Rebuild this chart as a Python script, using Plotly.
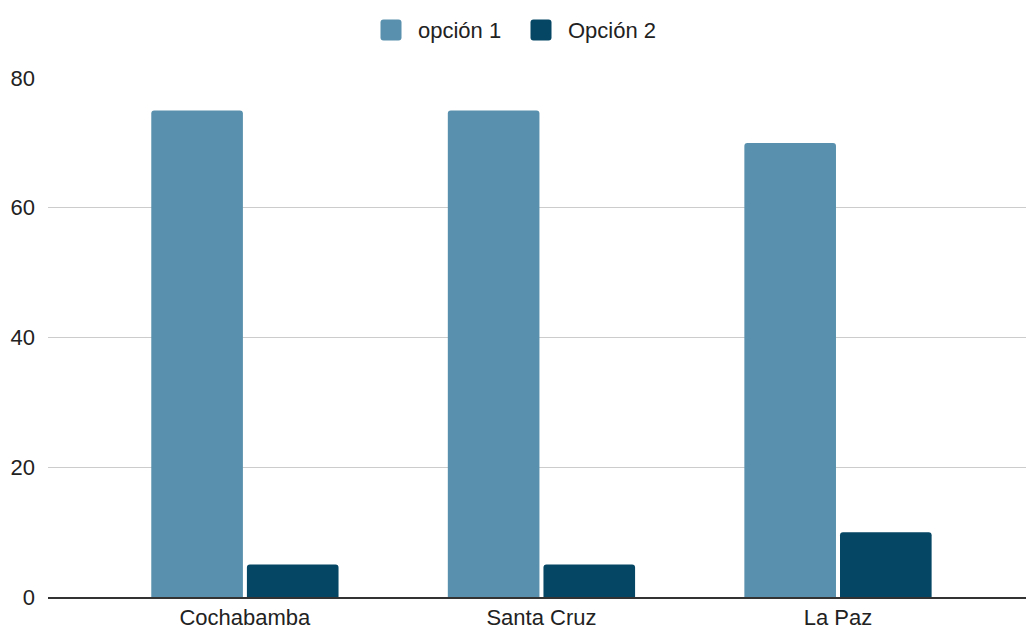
import plotly.graph_objects as go

# Survey results per city
ciudades = ["Cochabamba", "Santa Cruz", "La Paz"]
opcion_1 = [75, 75, 70]
opcion_2 = [5, 5, 10]
y_ticks = [0, 20, 40, 60, 80]
series = [("opción 1", opcion_1, "#5890ad"), ("Opción 2", opcion_2, "#044664")]

FONT = "Liberation Sans, Arial, sans-serif"
TEXT = "#222222"
W, H = 1026, 630
M_L, M_R, M_T, M_B = 48, 0, 78, 33
PLOT_W = W - M_L - M_R
PLOT_H = H - M_T - M_B

fig = go.Figure()
for nombre, valores, color in series:
    fig.add_trace(go.Bar(x=ciudades, y=valores, name=nombre,
                         marker=dict(color=color, line=dict(width=0))))


def px_to_paper_x(px):
    return (px - M_L) / PLOT_W


def px_to_paper_y(py):
    return (H - M_B - py) / PLOT_H


def rounded_square(size, r):
    h = size / 2
    return (f"M{-h + r},{-h} L{h - r},{-h} Q{h},{-h} {h},{-h + r} "
            f"L{h},{h - r} Q{h},{h} {h - r},{h} L{-h + r},{h} "
            f"Q{-h},{h} {-h},{h - r} L{-h},{-h + r} Q{-h},{-h} {-h + r},{-h} Z")


# Custom legend at the top: rounded swatches followed by labels
legend_y = 30
legend_items = [(391, 416), (541, 566)]  # swatch centre, label left edge (px)
for (swatch_x, label_x), (nombre, _, color) in zip(legend_items, series):
    fig.add_shape(type="path", xref="paper", yref="paper",
                  xsizemode="pixel", ysizemode="pixel",
                  xanchor=px_to_paper_x(swatch_x), yanchor=px_to_paper_y(legend_y),
                  path=rounded_square(21, 3), fillcolor=color,
                  line=dict(width=0), layer="above")
    fig.add_annotation(text=nombre, xref="paper", yref="paper",
                       x=px_to_paper_x(label_x), y=px_to_paper_y(legend_y),
                       xanchor="left", yanchor="middle", showarrow=False,
                       font=dict(size=22, color=TEXT, family=FONT))

fig.update_layout(
    width=W, height=H,
    margin=dict(l=M_L, r=M_R, t=M_T, b=M_B),
    paper_bgcolor="white", plot_bgcolor="white",
    barmode="group", bargap=0.355, bargroupgap=0.042,
    barcornerradius=3,
    font=dict(family=FONT, size=22, color=TEXT),
    showlegend=False,
)
fig.update_xaxes(type="category", range=[-0.664, 2.634], showgrid=False,
                 showline=True, linecolor="#333333", linewidth=1.5,
                 ticks="", tickfont=dict(size=22, color=TEXT))
fig.update_yaxes(range=[0, 80], tickvals=y_ticks, showgrid=True,
                 gridcolor="#cccccc", gridwidth=1, zeroline=False,
                 showline=False, ticks="", ticklabelstandoff=12,
                 tickfont=dict(size=22, color=TEXT))

fig.write_html("out.html")
